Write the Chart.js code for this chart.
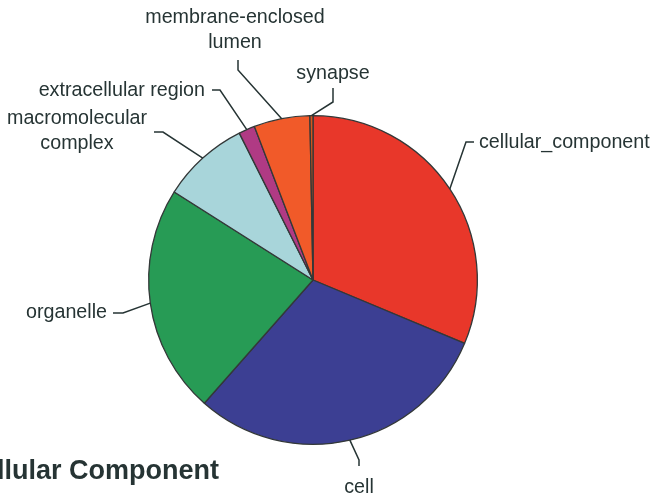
<!DOCTYPE html>
<html>
<head>
<meta charset="utf-8">
<script src="https://cdn.jsdelivr.net/npm/chart.js@4.4.1/dist/chart.umd.min.js"></script>
<style>
  html, body { margin: 0; padding: 0; background: #ffffff; }
  #wrap { width: 651px; height: 501px; position: relative; }
</style>
</head>
<body>
<div id="wrap"><canvas id="c" width="651" height="501"></canvas></div>
<script>
// ---- data ----
const categories = ["cellular_component", "cell", "organelle", "macromolecular complex",
                    "extracellular region", "membrane-enclosed lumen", "synapse"];
const values = [313, 302, 225, 86, 16, 55, 3];
const colors = ["#E8372A", "#3C3F93", "#279B55", "#A8D5DA", "#B03A84", "#F15A29", "#D4561F"];
const chartTitle = "Cellular Component";

// ---- label layout (offsets from pie centre, px) ----
const labelLines = [
  ["cellular_component"], ["cell"], ["organelle"], ["macromolecular", "complex"],
  ["extracellular region"], ["membrane-enclosed", "lumen"], ["synapse"]
];
const labelLayout = [
  { elbow: [153, -138], end: [161, -138], text: [166, -137], align: "left" },
  { elbow: [46, 180],   end: [46, 186],   text: [46, 208],   align: "center" },
  { elbow: [-190, 33],  end: [-200, 33],  text: [-206, 33],  align: "right" },
  { elbow: [-150, -148], end: [-159, -148], text: [-236, -161], align: "center" },
  { elbow: [-93, -190], end: [-101, -190], text: [-108, -189], align: "right" },
  { elbow: [-75, -210], end: [-75, -220], text: [-78, -262], align: "center" },
  { elbow: [20, -178],  end: [20, -192],  text: [20, -206],  align: "center" }
];
const lineGap = 25;
const textColor = "#263434";

const leaderLabels = {
  id: "leaderLabels",
  afterDatasetsDraw(chart) {
    const ctx = chart.ctx;
    const meta = chart.getDatasetMeta(0);
    ctx.save();
    ctx.font = "19.7px 'Liberation Sans', Arial, sans-serif";
    ctx.fillStyle = textColor;
    ctx.strokeStyle = textColor;
    ctx.lineWidth = 1.5;
    ctx.textBaseline = "middle";
    meta.data.forEach((arc, i) => {
      const p = arc.getProps(["x", "y", "startAngle", "endAngle", "outerRadius"], true);
      const mid = (p.startAngle + p.endAngle) / 2;
      const sx = p.x + Math.cos(mid) * p.outerRadius;
      const sy = p.y + Math.sin(mid) * p.outerRadius;
      const L = labelLayout[i];
      ctx.beginPath();
      ctx.moveTo(sx, sy);
      ctx.lineTo(p.x + L.elbow[0], p.y + L.elbow[1]);
      ctx.lineTo(p.x + L.end[0], p.y + L.end[1]);
      ctx.stroke();
      ctx.textAlign = L.align;
      labelLines[i].forEach((t, k) => {
        ctx.fillText(t, p.x + L.text[0], p.y + L.text[1] + k * lineGap);
      });
    });
    // cropped title at bottom-left
    ctx.font = "bold 27px 'Liberation Sans', Arial, sans-serif";
    ctx.textAlign = "right";
    ctx.textBaseline = "alphabetic";
    ctx.fillText(chartTitle, 219, 479);
    ctx.restore();
  }
};

new Chart(document.getElementById("c"), {
  type: "pie",
  data: {
    labels: categories,
    datasets: [{
      data: values,
      backgroundColor: colors,
      borderColor: "#333838",
      borderWidth: 1.3
    }]
  },
  options: {
    responsive: false,
    animation: false,
    layout: { padding: { left: 148, right: 173, top: 115, bottom: 56 } },
    plugins: {
      legend: { display: false },
      tooltip: { enabled: false },
      title: { display: false }
    }
  },
  plugins: [leaderLabels]
});
</script>
</body>
</html>
